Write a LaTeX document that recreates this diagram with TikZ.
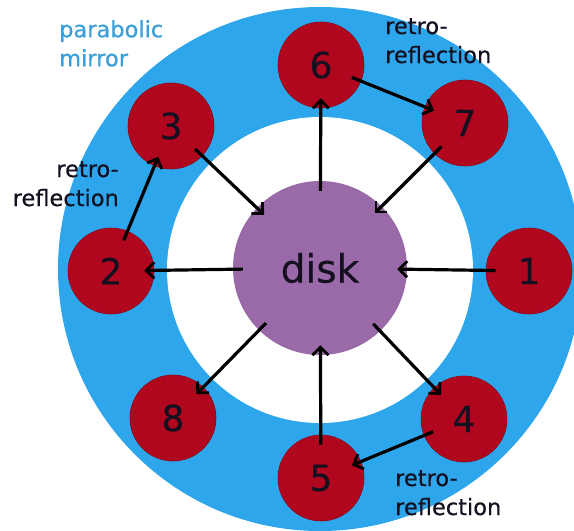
\documentclass[tikz,border=0pt]{standalone}
\usepackage{fontspec}
\setmainfont{DejaVu Sans}[FakeBold=0.35]
\usetikzlibrary{arrows.meta}
\definecolor{ringblue}{HTML}{2EA6EC}
\definecolor{labelblue}{HTML}{3A9ED8}
\definecolor{redball}{HTML}{B0071F}
\definecolor{diskpurple}{HTML}{9A6AA8}
\definecolor{inkdark}{HTML}{141020}
\tikzset{
  ball/.style={circle, fill=redball, draw=redball!80!black, line width=0.6pt, minimum size=86pt, inner sep=0pt,
    font=\fontsize{36}{36}\selectfont, text=inkdark},
  diskball/.style={circle, fill=diskpurple, minimum size=174pt, inner sep=0pt,
    font=\fontsize{39}{39}\selectfont, text=inkdark},
  ray/.style={line width=3.2pt, draw=black, -{Straight Barb[length=8pt,width=16pt,line width=2.8pt]},
    shorten <=-10pt, shorten >=-10pt},
  note/.style={font=\fontsize{22.5}{29}\selectfont, text=inkdark, inner sep=0pt},
}
\begin{document}
\begin{tikzpicture}[x=1pt,y=-1pt]
\useasboundingbox (0,0) rectangle (574,531);
\fill[white] (0,0) rectangle (574,531);
\begin{scope}
\clip (0,0) rectangle (574,531);
\fill[ringblue] (320,269) circle[radius=262pt];
\fill[white] (320,270) circle[radius=153pt];
\end{scope}
\node[diskball] (disk) at (320,268) {disk};
\node[ball] (n1) at (529,271) {1};
\node[ball] (n2) at (111,271) {2};
\node[ball] (n3) at (171,126) {3};
\node[ball] (n4) at (464,419) {4};
\node[ball] (n5) at (321,478) {5};
\node[ball] (n6) at (321,65) {6};
\node[ball] (n7) at (465,123) {7};
\node[ball] (n8) at (173,418) {8};
\node[note, text=labelblue, align=left, anchor=north west] (lbm) at (59,20) {parabolic\\mirror};
\node[note, align=right, anchor=north east] (lb1) at (119,161) {retro-\\reflection};
\node[note, align=left, anchor=north west] (lb2) at (385,18) {retro-\\reflection};
\node[note, align=left, anchor=north west] (lb3) at (395,470) {retro-\\reflection};
\draw[ray] (n1) -- (disk);
\draw[ray] (disk) -- (n2);
\draw[ray] (n2) -- (n3);
\draw[ray] (n3) -- (disk);
\draw[ray] (disk) -- (n6);
\draw[ray] (n6) -- (n7);
\draw[ray] (n7) -- (disk);
\draw[ray] (disk) -- (n8);
\draw[ray] (disk) -- (n4);
\draw[ray] (n5) -- (disk);
\draw[ray] (n4) -- (n5);
\end{tikzpicture}
\end{document}
